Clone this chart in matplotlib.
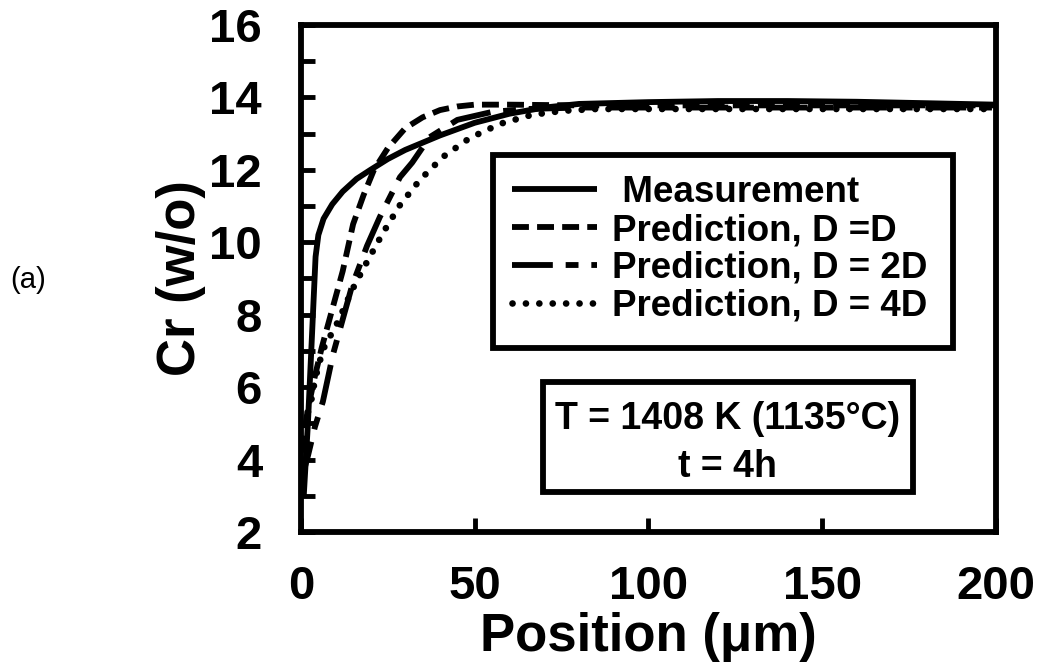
import matplotlib
matplotlib.use("Agg")
import matplotlib.pyplot as plt
from matplotlib.patches import Rectangle

plt.rcParams['font.family'] = ['Liberation Sans', 'DejaVu Sans']

# Cr concentration profiles, position in micrometres, Cr in w/o
meas_x = [0.8, 2.0, 3.2, 4.2, 5.0, 6.5, 9, 12, 16, 20, 25, 30, 40, 50, 60, 70,
          80, 100, 120, 140, 160, 180, 200]
meas_y = [3.0, 5.0, 7.5, 9.6, 10.2, 10.65, 11.05, 11.4, 11.75, 12.0, 12.3, 12.55,
          12.95, 13.3, 13.55, 13.72, 13.82, 13.87, 13.9, 13.9, 13.88, 13.84, 13.8]

pred1_x = [0, 2, 4, 6, 8, 10, 12, 15, 18, 21, 25, 30, 35, 40, 45, 50, 60, 80,
           120, 160, 200]
pred1_y = [4.2, 5.4, 6.3, 7.1, 7.8, 8.5, 9.2, 10.5, 11.3, 12.0, 12.6, 13.15, 13.45,
           13.65, 13.75, 13.8, 13.8, 13.78, 13.78, 13.78, 13.78]

pred2_x = [0, 2, 4, 6.3, 9.2, 14.7, 19, 22.7, 28.5, 32, 37, 45, 55, 65, 80, 120,
           160, 200]
pred2_y = [3.4, 4.1, 4.9, 5.6, 6.9, 8.8, 9.9, 10.7, 11.8, 12.2, 12.9, 13.38, 13.6,
           13.68, 13.72, 13.72, 13.72, 13.72]

pred4_x = [0, 3.2, 4, 6.3, 10.6, 14.7, 19, 23.6, 28.5, 34.2, 40.9, 48.6, 57.3,
           66.5, 75.4, 85, 100, 150, 200]
pred4_y = [4.6, 5.73, 6.2, 7.03, 7.8, 8.68, 9.46, 10.26, 11.03, 11.72, 12.36,
           12.88, 13.27, 13.52, 13.63, 13.68, 13.68, 13.68, 13.68]

series_labels = [" Measurement", "Prediction, D =D", "Prediction, D = 2D",
                 "Prediction, D = 4D"]
x_ticks = [0, 50, 100, 150, 200]
y_ticks = [2, 4, 6, 8, 10, 12, 14, 16]

LW = 4.2

fig = plt.figure(figsize=(10.4, 6.68), dpi=100)
ax = fig.add_axes([0.2894, 0.2036, 0.6683, 0.759])

ax.plot(meas_x, meas_y, color='black', lw=LW, solid_capstyle='butt',
        label=series_labels[0])
ax.plot(pred1_x, pred1_y, color='black', lw=LW, linestyle=(0, (2.9, 1.4)),
        label=series_labels[1])
ax.plot(pred2_x, pred2_y, color='black', lw=LW, linestyle=(0, (7.0, 2.2, 2.2, 2.2)),
        label=series_labels[2])
ax.plot(pred4_x, pred4_y, color='black', lw=LW + 0.6, linestyle=(0, (0.01, 2.0)),
        dash_capstyle='round', label=series_labels[3])

ax.set_xlim(0, 200)
ax.set_ylim(2, 16)
ax.set_xticks(x_ticks)
ax.set_yticks(y_ticks)
ax.set_yticks(range(3, 16, 2), minor=True)
ax.tick_params(axis='both', which='both', direction='in', length=10, width=3.5,
               top=False, right=False)
ax.tick_params(axis='x', which='major', labelsize=34, pad=24)
ax.tick_params(axis='y', which='major', labelsize=34, pad=28)
for lbl in ax.get_xticklabels() + ax.get_yticklabels():
    lbl.set_fontweight('bold')
for sp in ax.spines.values():
    sp.set_linewidth(LW)

ax.set_xlabel("Position (μm)", fontsize=38, fontweight='bold')
ax.set_ylabel("Cr (w/o)", fontsize=38, fontweight='bold')
ax.xaxis.set_label_coords(0.5, -0.158)
ax.yaxis.set_label_coords(-0.137, 0.5)

# legend: frame drawn as a separate box, entries placed inside it
ax.add_patch(Rectangle((0.2763, 0.363), 0.662, 0.381, transform=ax.transAxes,
                       facecolor='white', edgecolor='black', lw=LW, zorder=4))
leg = ax.legend(loc='upper left', bbox_to_anchor=(0.3036, 0.704), borderaxespad=0,
                handlelength=2.3, handletextpad=0.42, labelspacing=0.08,
                borderpad=0, frameon=False, prop={'weight': 'bold', 'size': 26.5})
leg.set_zorder(5)

ax.add_patch(Rectangle((0.348, 0.079), 0.533, 0.217, transform=ax.transAxes,
                       facecolor='white', edgecolor='black', lw=LW, zorder=5))
ax.text(0.614, 0.222, "T = 1408 K (1135°C)", transform=ax.transAxes, ha='center',
        va='center', fontsize=27, fontweight='bold', zorder=6)
ax.text(0.614, 0.128, "t = 4h", transform=ax.transAxes, ha='center', va='center',
        fontsize=27, fontweight='bold', zorder=6)

fig.text(0.027, 0.581, "(a)", ha='center', va='center', fontsize=21)

fig.savefig("out.png", dpi=100)
